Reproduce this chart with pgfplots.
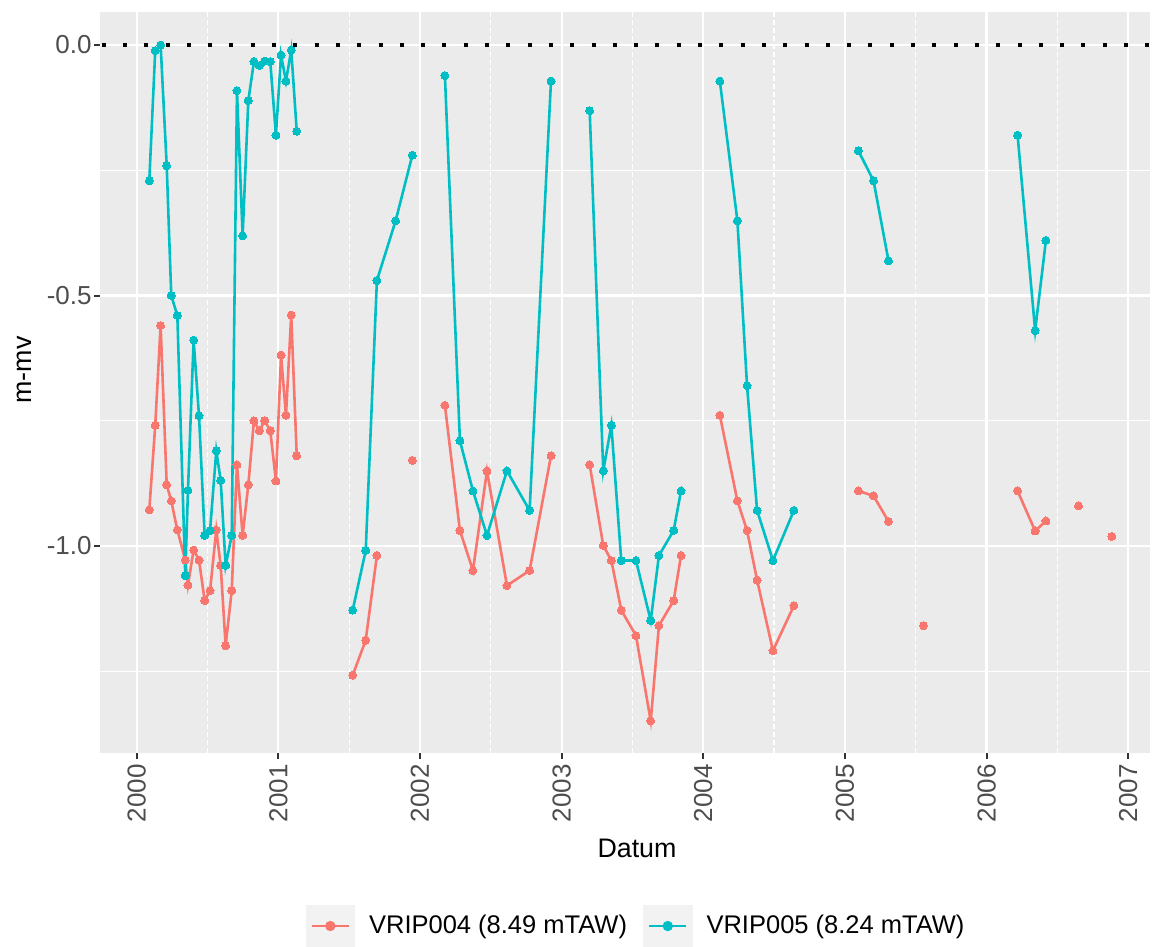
\documentclass[border=0pt]{standalone}
\usepackage{pgfplots}
\pgfplotsset{compat=1.18}
\usepackage{fontspec}
\setmainfont{Liberation Sans}
\definecolor{panelbg}{HTML}{EBEBEB}
\definecolor{keybg}{HTML}{F2F2F2}
\definecolor{ggred}{HTML}{F8766D}
\definecolor{ggteal}{HTML}{00BFC4}
\definecolor{tickgrey}{HTML}{4D4D4D}
\definecolor{tickmark}{HTML}{333333}
\begin{document}
\begin{tikzpicture}
\useasboundingbox (-50bp,-97bp) rectangle (528bp,376.5bp);
\begin{axis}[
  scale only axis,
  width=525bp, height=370.5bp,
  xmin=1999.741, xmax=2007.154,
  ymin=-1.4132, ymax=0.0659,
  unbounded coords=jump,
  axis background/.style={fill=panelbg},
  axis line style={draw=none},
  xtick={2000,2001,2002,2003,2004,2005,2006,2007},
  xticklabels={2000,2001,2002,2003,2004,2005,2006,2007},
  ytick={-1,-0.5,0},
  yticklabels={-1.0,-0.5,0.0},
  minor xtick={2000.5,2001.5,2002.5,2003.5,2004.5,2005.5,2006.5},
  minor ytick={-1.25,-0.75,-0.25},
  xtick pos=bottom, ytick pos=left,
  tick align=outside,
  major tick length=3bp,
  minor tick length=0pt,
  major tick style={color=tickmark, line width=1bp},
  grid=both,
  major grid style={white, line width=1.1bp},
  minor grid style={white, line width=0.6bp},
  minor x grid style={white, line width=0.6bp, dash pattern=on 2.5bp off 1.5bp},
  xticklabel style={yshift=-2.5bp, rotate=90, anchor=east, inner sep=0pt, text=tickgrey, font=\fontsize{13bp}{15bp}\selectfont},
  yticklabel style={anchor=east, inner sep=0pt, xshift=-1bp, text=tickgrey, font=\fontsize{13bp}{15bp}\selectfont},
  xlabel={Datum},
  ylabel={m-mv},
  xlabel style={at={(axis description cs:0.5114,0)}, anchor=base, yshift=-52bp, font=\fontsize{13.4bp}{15bp}\selectfont},
  ylabel style={at={(axis description cs:-0.0724,0.517)}, anchor=center, font=\fontsize{13.4bp}{15bp}\selectfont},
  legend columns=2,
  legend style={at={(axis description cs:0.5114,-0.2335)}, anchor=center, draw=none, fill=none,
    font=\fontsize{12.75bp}{14bp}\selectfont, inner sep=0pt,
    /tikz/every odd column/.append style={column sep=5bp},
    /tikz/every even column/.append style={column sep=6bp}},
  legend cell align=left,
  legend image code/.code={%
    \fill[keybg] (0bp,-10bp) rectangle (23.5bp,10bp);
    \draw[#1, mark=none] (2.5bp,0bp) -- (21bp,0bp);
    \fill[#1] (11.75bp,0bp) circle (1.9bp);
  },
]
\addplot[ggred, line width=1.3bp, mark=*, mark size=2bp, mark options={solid, fill=ggred, draw=ggred, line width=0pt}] coordinates {
(2000.089,-0.928) (2000.131,-0.759) (2000.169,-0.560) (2000.212,-0.878) (2000.244,-0.910)
(2000.287,-0.968) (2000.343,-1.028) (2000.362,-1.078) (2000.402,-1.008) (2000.440,-1.028)
(2000.480,-1.109) (2000.518,-1.089) (2000.562,-0.968) (2000.593,-1.039) (2000.628,-1.199)
(2000.671,-1.089) (2000.708,-0.838) (2000.748,-0.979) (2000.788,-0.878) (2000.828,-0.750)
(2000.866,-0.770) (2000.904,-0.750) (2000.943,-0.770) (2000.983,-0.870) (2001.019,-0.619)
(2001.054,-0.739) (2001.091,-0.539) (2001.130,-0.820)
(2001.3,nan)
(2001.525,-1.258) (2001.617,-1.188) (2001.696,-1.019)
(2001.8,nan)
(2001.946,-0.829)
(2002.0,nan)
(2002.176,-0.719) (2002.282,-0.969) (2002.374,-1.049) (2002.473,-0.850) (2002.614,-1.079)
(2002.774,-1.049) (2002.925,-0.820)
(2003.0,nan)
(2003.198,-0.838) (2003.294,-0.999) (2003.351,-1.029) (2003.421,-1.128) (2003.525,-1.179)
(2003.629,-1.349) (2003.687,-1.159) (2003.791,-1.109) (2003.843,-1.019)
(2004.0,nan)
(2004.117,-0.739) (2004.241,-0.910) (2004.309,-0.969) (2004.380,-1.068) (2004.492,-1.209)
(2004.640,-1.119)
(2004.9,nan)
(2005.095,-0.890) (2005.202,-0.900) (2005.308,-0.951)
(2005.4,nan)
(2005.555,-1.159)
(2005.9,nan)
(2006.219,-0.890) (2006.343,-0.970) (2006.419,-0.950)
(2006.5,nan)
(2006.649,-0.920)
(2006.7,nan)
(2006.884,-0.981)
};
\addlegendentry{VRIP004 (8.49 mTAW)}
\addplot[ggteal, line width=1.3bp, mark=*, mark size=2bp, mark options={solid, fill=ggteal, draw=ggteal, line width=0pt}] coordinates {
(2000.089,-0.271) (2000.131,-0.011) (2000.169,0.000) (2000.212,-0.241) (2000.244,-0.500)
(2000.287,-0.540) (2000.343,-1.059) (2000.362,-0.889) (2000.402,-0.589) (2000.440,-0.740)
(2000.480,-0.979) (2000.518,-0.969) (2000.562,-0.810) (2000.593,-0.869) (2000.628,-1.039)
(2000.671,-0.979) (2000.708,-0.091) (2000.748,-0.381) (2000.788,-0.111) (2000.828,-0.033)
(2000.866,-0.041) (2000.904,-0.032) (2000.943,-0.033) (2000.983,-0.180) (2001.019,-0.020)
(2001.054,-0.072) (2001.091,-0.010) (2001.130,-0.172)
(2001.3,nan)
(2001.525,-1.128) (2001.617,-1.009) (2001.696,-0.470) (2001.828,-0.351) (2001.946,-0.220)
(2002.0,nan)
(2002.176,-0.061) (2002.282,-0.790) (2002.374,-0.890) (2002.473,-0.979) (2002.614,-0.850)
(2002.774,-0.929) (2002.925,-0.072)
(2003.0,nan)
(2003.198,-0.131) (2003.294,-0.850) (2003.351,-0.759) (2003.421,-1.029) (2003.525,-1.029)
(2003.629,-1.149) (2003.687,-1.019) (2003.791,-0.969) (2003.843,-0.890)
(2004.0,nan)
(2004.117,-0.072) (2004.241,-0.351) (2004.309,-0.680) (2004.380,-0.929) (2004.492,-1.029)
(2004.640,-0.929)
(2004.9,nan)
(2005.095,-0.211) (2005.202,-0.271) (2005.308,-0.431)
(2005.9,nan)
(2006.219,-0.180) (2006.343,-0.570) (2006.419,-0.390)
};
\addlegendentry{VRIP005 (8.24 mTAW)}
\addplot[black, line width=2bp, dash pattern=on 2bp off 8.65bp, dash phase=-0.8bp, forget plot] coordinates {(1999.741,0) (2007.154,0)};
\end{axis}
\end{tikzpicture}
\end{document}
